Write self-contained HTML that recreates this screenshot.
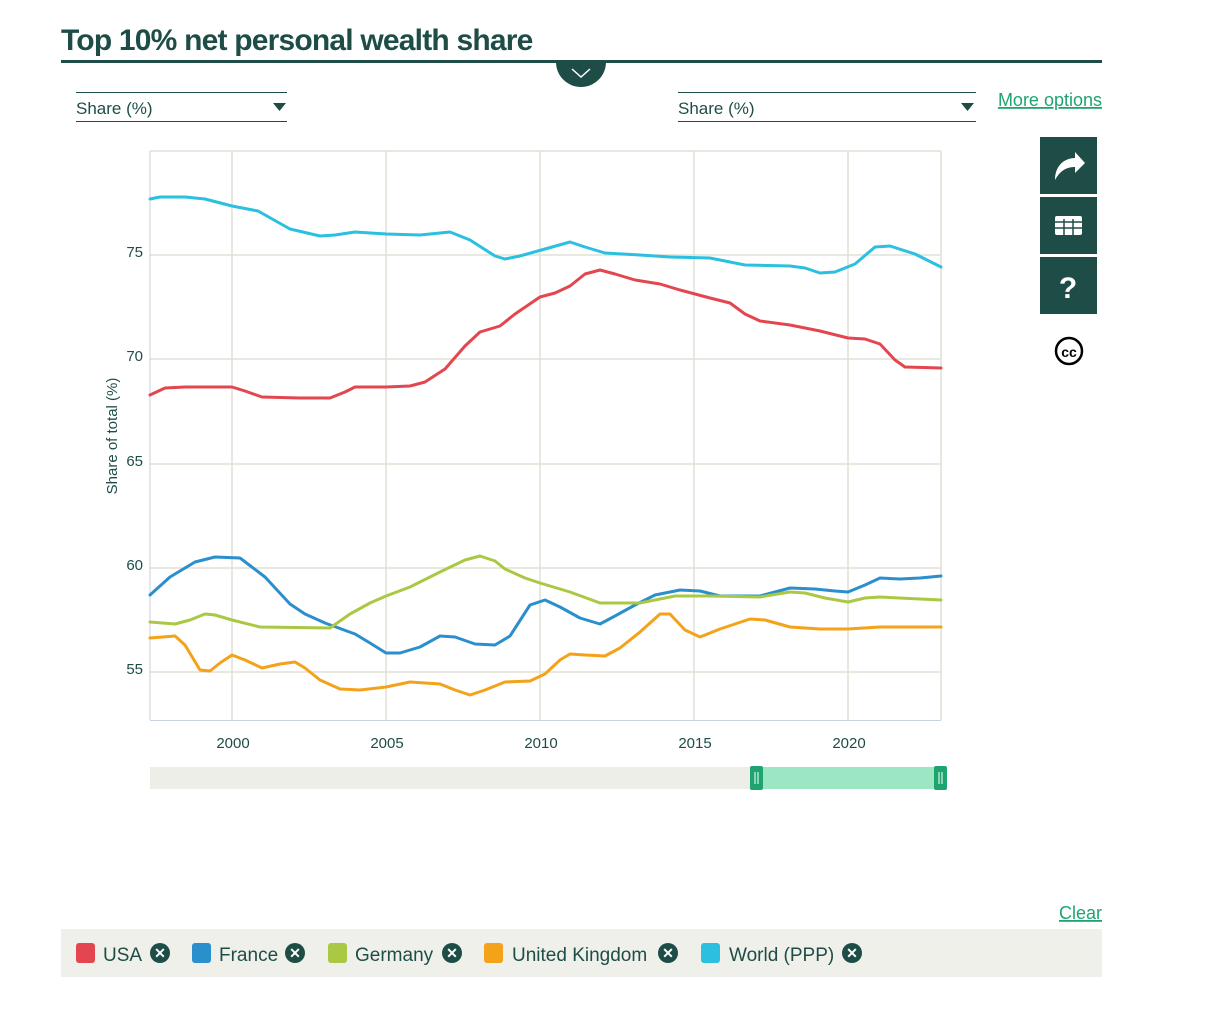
<!DOCTYPE html>
<html><head><meta charset="utf-8"><style>
html,body{margin:0;padding:0;background:#fff;width:1211px;height:1026px;overflow:hidden}
svg{display:block;font-family:"Liberation Sans",sans-serif}
</style></head><body>
<svg width="1211" height="1026" viewBox="0 0 1211 1026">
<text x="61" y="50" font-size="30" font-weight="bold" fill="#1e4d47" letter-spacing="-0.8">Top 10% net personal wealth share</text>
<rect x="61" y="60" width="1041" height="3" fill="#1e4d47"/>
<clipPath id="c"><rect x="550" y="62" width="62" height="30"/></clipPath>
<circle cx="581" cy="62" r="25" fill="#1e4d47" clip-path="url(#c)"/>
<path d="M572,69 L581,77 L590,69" stroke="#fff" stroke-width="1.5" fill="none"/>
<rect x="76" y="92" width="211" height="1" fill="#1e4d47"/>
<rect x="76" y="121" width="211" height="1" fill="#1e4d47"/>
<text x="76" y="114" font-size="17" fill="#1e4d47">Share (%)</text>
<path d="M273,103 L286,103 L279.5,111 Z" fill="#1e4d47"/>
<rect x="678" y="92" width="298" height="1" fill="#1e4d47"/>
<rect x="678" y="121" width="298" height="1" fill="#1e4d47"/>
<text x="678" y="114" font-size="17" fill="#1e4d47">Share (%)</text>
<path d="M961,103 L974,103 L967.5,111 Z" fill="#1e4d47"/>
<text x="1102" y="106" font-size="18" fill="#1fa470" text-anchor="end" text-decoration="underline">More options</text>
<rect x="1040" y="137" width="57" height="57" fill="#1e4d47"/>
<path d="M1055,180 C1055,165 1065,158 1075,158 L1075,152 L1085,163 L1075,173 L1075,167 C1066,167 1060,171 1055,180 Z" fill="#fff"/>
<rect x="1040" y="197" width="57" height="57" fill="#1e4d47"/>
<rect x="1055" y="216" width="27" height="19" rx="2" fill="#fff"/>
<g stroke="#1e4d47" stroke-width="1.5"><line x1="1055" y1="222" x2="1082" y2="222"/><line x1="1055" y1="228" x2="1082" y2="228"/><line x1="1064" y1="219" x2="1064" y2="235"/><line x1="1073" y1="219" x2="1073" y2="235"/></g>
<rect x="1040" y="257" width="57" height="57" fill="#1e4d47"/>
<text x="1068" y="298" font-size="30" font-weight="bold" fill="#fff" text-anchor="middle">?</text>
<circle cx="1069" cy="351" r="13" fill="none" stroke="#000" stroke-width="2.5"/>
<text x="1069" y="357" font-size="14" font-weight="bold" text-anchor="middle" fill="#000">cc</text>
<g stroke="#e0e0d6" stroke-width="1.5">
<line x1="232" y1="151" x2="232" y2="720"/><line x1="386" y1="151" x2="386" y2="720"/><line x1="540" y1="151" x2="540" y2="720"/><line x1="694" y1="151" x2="694" y2="720"/><line x1="848" y1="151" x2="848" y2="720"/><line x1="941" y1="151" x2="941" y2="720"/>
<line x1="150" y1="151" x2="941" y2="151"/>
<line x1="150" y1="255" x2="941" y2="255"/><line x1="150" y1="359" x2="941" y2="359"/><line x1="150" y1="464" x2="941" y2="464"/><line x1="150" y1="568" x2="941" y2="568"/><line x1="150" y1="672" x2="941" y2="672"/>
</g>
<line x1="150" y1="151" x2="150" y2="720" stroke="#ccd" stroke-width="1"/>
<line x1="150" y1="720.5" x2="941" y2="720.5" stroke="#c8d4e0" stroke-width="1"/>
<g font-size="15" fill="#1e4d47" text-anchor="end">
<text x="143" y="257">75</text><text x="143" y="361">70</text><text x="143" y="466">65</text><text x="143" y="570">60</text><text x="143" y="674">55</text></g>
<g font-size="15" fill="#1e4d47" text-anchor="middle">
<text x="233" y="748">2000</text><text x="387" y="748">2005</text><text x="541" y="748">2010</text><text x="695" y="748">2015</text><text x="849" y="748">2020</text></g>
<text transform="translate(117,436) rotate(-90)" font-size="15" fill="#1e4d47" text-anchor="middle">Share of total (%)</text>
<g fill="none" stroke-width="3" stroke-linejoin="round" stroke-linecap="round">
<polyline stroke="#2bbfe0" points="150,199 160,197 185,197 205,199 232,206 258,211 290,229 320,236 335,235 355,232 386,234 420,235 450,232 470,240 495,256 505,259 520,256 545,249 570,242 585,247 605,253 640,255 670,257 710,258 745,265 790,266 805,268 820,273 835,272 855,264 875,247 890,246 915,254 941,267"/>
<polyline stroke="#e4464f" points="150,395 165,388 185,387 232,387 245,391 262,397 300,398 330,398 345,392 355,387 386,387 410,386 425,382 445,369 465,346 480,332 500,326 515,314 540,297 555,293 570,286 585,274 600,270 615,274 635,280 660,284 680,290 710,298 730,303 745,314 760,321 790,325 820,331 848,338 865,339 880,344 895,360 905,367 941,368"/>
<polyline stroke="#2a8fcc" points="150,595 170,577 195,562 215,557 240,558 265,577 290,604 305,614 325,623 355,634 370,643 386,653 400,653 420,647 440,636 455,637 475,644 495,645 510,636 530,605 545,600 560,607 580,618 600,624 615,616 635,605 655,595 680,590 700,591 720,596 760,596 775,592 790,588 815,589 835,591 848,592 865,585 880,578 900,579 920,578 941,576"/>
<polyline stroke="#aac843" points="150,622 175,624 190,620 205,614 215,615 232,620 260,627 330,628 350,614 370,603 386,596 410,587 440,572 465,560 480,556 495,561 505,569 525,578 540,583 570,592 600,603 640,603 655,600 675,596 710,596 760,597 790,592 805,593 825,598 848,602 865,598 880,597 941,600"/>
<polyline stroke="#f4a21a" points="150,638 175,636 185,645 200,670 210,671 220,663 232,655 245,660 262,668 280,664 295,662 305,668 320,680 340,689 360,690 386,687 410,682 440,684 455,690 470,695 485,690 505,682 530,681 545,674 560,660 570,654 585,655 605,656 620,648 640,632 660,614 670,614 685,630 700,637 720,629 750,619 765,620 790,627 820,629 848,629 880,627 941,627"/>
</g>
<rect x="150" y="767" width="797" height="22" fill="#eeeee9"/>
<rect x="756" y="767" width="184" height="22" fill="#9de6c4"/>
<rect x="750" y="766" width="13" height="24" rx="2" fill="#1fa470"/>
<rect x="934" y="766" width="13" height="24" rx="2" fill="#1fa470"/>
<g stroke="#fff" stroke-width="1"><line x1="755" y1="772" x2="755" y2="784"/><line x1="758" y1="772" x2="758" y2="784"/><line x1="939" y1="772" x2="939" y2="784"/><line x1="942" y1="772" x2="942" y2="784"/></g>
<text x="1102" y="919" font-size="18" fill="#1fa470" text-anchor="end" text-decoration="underline">Clear</text>
<rect x="61" y="929" width="1041" height="48" fill="#f0f0eb"/>
<g font-size="19" fill="#1e4d47">
<rect x="76" y="943" width="19" height="20" rx="3" fill="#e4464f"/><text x="103" y="961">USA</text>
<rect x="192" y="943" width="19" height="20" rx="3" fill="#2a8fcc"/><text x="219" y="961">France</text>
<rect x="328" y="943" width="19" height="20" rx="3" fill="#aac843"/><text x="355" y="961">Germany</text>
<rect x="484" y="943" width="19" height="20" rx="3" fill="#f4a21a"/><text x="512" y="961">United Kingdom</text>
<rect x="701" y="943" width="19" height="20" rx="3" fill="#2bbfe0"/><text x="729" y="961">World (PPP)</text>
</g>
<g fill="#1e4d47"><circle cx="160" cy="953" r="10"/><circle cx="295" cy="953" r="10"/><circle cx="452" cy="953" r="10"/><circle cx="668" cy="953" r="10"/><circle cx="852" cy="953" r="10"/></g>
<g font-size="14" font-weight="bold" fill="#fff" text-anchor="middle">
<text x="160" y="958">✕</text><text x="295" y="958">✕</text><text x="452" y="958">✕</text><text x="668" y="958">✕</text><text x="852" y="958">✕</text></g>
</svg>
</body></html>
